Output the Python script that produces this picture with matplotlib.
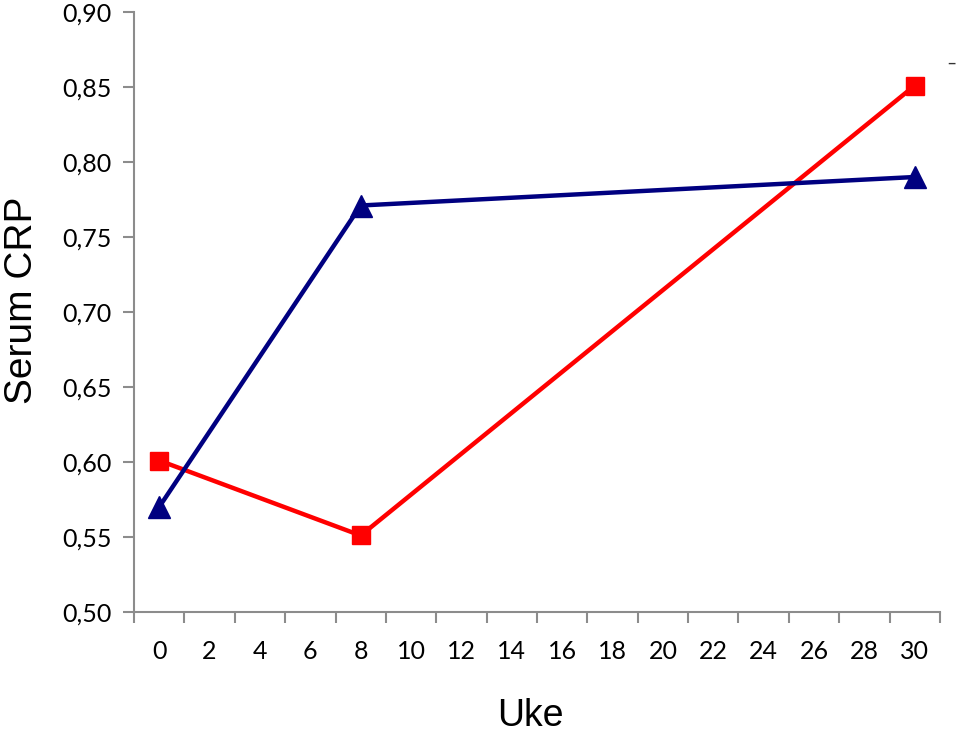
import matplotlib
matplotlib.use("Agg")
import matplotlib.pyplot as plt
from matplotlib.ticker import FixedLocator, NullFormatter

weeks = [0, 8, 30]
blue_values = [0.570, 0.771, 0.790]
red_values = [0.601, 0.551, 0.851]
x_tick_labels = [str(v) for v in range(0, 31, 2)]
y_ticks = [0.50, 0.55, 0.60, 0.65, 0.70, 0.75, 0.80, 0.85, 0.90]

fig = plt.figure(figsize=(9.59, 7.33), dpi=100)
ax = fig.add_axes([134/959, (733-612)/733, (940-134)/959, (612-12)/733])

ax.plot(weeks, red_values, color="#FF0000", lw=3.2, marker="s", ms=13.5, zorder=3)
ax.plot(weeks, blue_values, color="#000080", lw=3.2, marker="^", ms=15.5, zorder=4)

ax.set_xlim(-1, 31)
ax.set_ylim(0.50, 0.90)

spine_color = "#8C8C8C"
for s in ["top", "right"]:
    ax.spines[s].set_visible(False)
for s in ["left", "bottom"]:
    ax.spines[s].set_color(spine_color)
    ax.spines[s].set_linewidth(1.5)

tick_font = dict(family="Lato", size=18)

# category boundaries as tick marks
ax.xaxis.set_major_locator(FixedLocator(list(range(-1, 32, 2))))
ax.xaxis.set_major_formatter(NullFormatter())
ax.tick_params(axis="x", which="major", direction="out", length=8, width=1.5, color=spine_color)
ax.xaxis.set_minor_locator(FixedLocator(list(range(0, 31, 2))))
ax.tick_params(axis="x", which="minor", length=0, pad=20)
ax.set_xticklabels(x_tick_labels, minor=True, fontdict=tick_font)

ax.tick_params(axis="y", direction="out", length=8, width=1.5, color=spine_color, pad=8)
ax.set_yticks(y_ticks)
ax.set_yticklabels([f"{v:.2f}".replace(".", ",") for v in y_ticks], fontdict=tick_font)

fig.text(530/959, 1 - 716/733, "Uke", fontsize=27, family="Liberation Sans",
         ha="center", va="center")
fig.text(22/959, 1 - 300/733, "Serum CRP", fontsize=28, family="Liberation Sans",
         ha="center", va="center", rotation=90)

fig.text(951/959, 1 - 63/733, "–", fontsize=12, color="#333333", ha="center", va="center")

fig.savefig("out.png", dpi=100)
